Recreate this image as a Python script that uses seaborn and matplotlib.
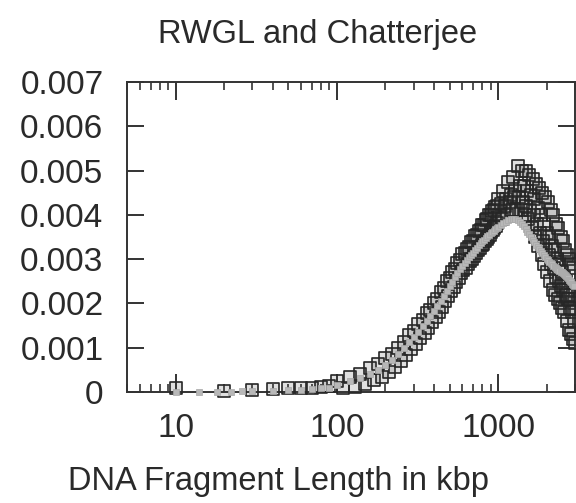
import matplotlib
matplotlib.use("Agg")
import matplotlib.pyplot as plt
import matplotlib.ticker as mticker
import seaborn as sns
import pandas as pd

# ---- data ----
# RWGL, first set of points (upper side of the band)
rwgl_a_x = [10, 20, 30, 40, 50, 60, 70, 80, 90,
            100, 120, 140, 160, 180, 200, 220, 240, 260, 280, 300, 320, 340, 360, 380,
            400, 420, 440, 460, 480, 500, 520, 540, 560, 580, 600, 620, 640, 660, 680,
            700, 720, 740, 760, 780, 800, 820, 840, 860, 880, 900, 920, 940, 960, 980,
            1000, 1040, 1080, 1120, 1160, 1200, 1240, 1280, 1320, 1360, 1400, 1440, 1480,
            1520, 1560, 1600, 1640, 1680, 1720, 1760, 1800, 1840, 1880, 1920, 1960, 2000,
            2040, 2080, 2120, 2160, 2200, 2240, 2280, 2320, 2360, 2400, 2440, 2480, 2520,
            2560, 2600, 2640, 2680, 2720, 2760, 2800, 2840, 2880, 2920, 2960]
rwgl_a_y = [0.00008, 0.00002, 0.00005, 0.00006, 0.00008, 0.00010, 0.00010, 0.00012, 0.00013,
            0.00024, 0.00033, 0.00040, 0.00054, 0.00063, 0.00076, 0.00086, 0.00100, 0.00112, 0.00128,
            0.00138, 0.00154, 0.00162, 0.00178, 0.00186, 0.00202, 0.00210, 0.00226, 0.00234, 0.00250,
            0.00258, 0.00272, 0.00278, 0.00292, 0.00298, 0.00312, 0.00314, 0.00324, 0.00328, 0.00338,
            0.00340, 0.00352, 0.00354, 0.00364, 0.00366, 0.00376, 0.00378, 0.00388, 0.00390, 0.00400,
            0.00400, 0.00408, 0.00410, 0.00418, 0.00420,
            0.00435, 0.00425, 0.00455, 0.00435, 0.00475, 0.00445, 0.00485, 0.00455, 0.00510, 0.00465,
            0.00500, 0.00465, 0.00500, 0.00455, 0.00490, 0.00445, 0.00480, 0.00435, 0.00470, 0.00415,
            0.00460, 0.00400, 0.00450, 0.00380, 0.00440, 0.00360, 0.00430, 0.00350, 0.00410, 0.00330,
            0.00400, 0.00320, 0.00380, 0.00300, 0.00370, 0.00290, 0.00350, 0.00270, 0.00340, 0.00260,
            0.00320, 0.00250, 0.00310, 0.00230, 0.00300, 0.00220, 0.00290, 0.00210, 0.00280, 0.00200]

# RWGL, second set of points (lower side of the band)
rwgl_b_x = [110, 130, 150, 170, 190, 210, 230, 250, 270, 290, 310, 330, 350, 370, 390,
            410, 430, 450, 470, 490, 510, 530, 550, 570, 590, 610, 630, 650, 670, 690,
            710, 730, 750, 770, 790, 810, 830, 850, 870, 890, 910, 930, 950, 970, 990,
            1020, 1060, 1100, 1140, 1180, 1220, 1260, 1300, 1340, 1380, 1420, 1460, 1500,
            1540, 1580, 1620, 1660, 1700, 1740, 1780, 1820, 1860, 1900, 1940, 1980, 2020,
            2060, 2100, 2140, 2180, 2220, 2260, 2300, 2340, 2380, 2420, 2460, 2500, 2540,
            2580, 2620, 2660, 2700, 2740, 2780, 2820, 2860, 2900, 2940, 2980]
rwgl_b_y = [0.00008, 0.00012, 0.00017, 0.00026, 0.00035, 0.00045, 0.00057, 0.00070, 0.00084,
            0.00096, 0.00109, 0.00121, 0.00133, 0.00145, 0.00157, 0.00169, 0.00181, 0.00193,
            0.00205, 0.00217, 0.00228, 0.00238, 0.00248, 0.00258, 0.00268, 0.00275, 0.00281,
            0.00288, 0.00295, 0.00301, 0.00308, 0.00315, 0.00321, 0.00325, 0.00331, 0.00335,
            0.00341, 0.00345, 0.00351, 0.00355, 0.00361, 0.00365, 0.00371, 0.00375, 0.00382,
            0.00400, 0.00390, 0.00420, 0.00400, 0.00430, 0.00410, 0.00440, 0.00410, 0.00440, 0.00410,
            0.00430, 0.00400, 0.00420, 0.00390, 0.00410, 0.00370, 0.00400, 0.00350, 0.00380, 0.00330,
            0.00360, 0.00310, 0.00340, 0.00290, 0.00320, 0.00270, 0.00310, 0.00250, 0.00290, 0.00230,
            0.00280, 0.00220, 0.00260, 0.00210, 0.00250, 0.00200, 0.00240, 0.00190, 0.00230, 0.00180,
            0.00220, 0.00160, 0.00210, 0.00140, 0.00190, 0.00130, 0.00180, 0.00120, 0.00160, 0.00110]

# Chatterjee (light grey)
chat_x = [10, 14, 18, 22, 26, 30, 40, 50, 60, 70, 80, 90,
          100, 120, 140, 160, 180, 200, 220, 240, 260, 280, 300, 320, 340, 360, 380,
          400, 420, 440, 460, 480, 500, 520, 540, 560, 580, 600, 620, 640, 660, 680,
          700, 720, 740, 760, 780, 800, 820, 840, 860, 880, 900, 920, 940, 960, 980,
          1000, 1040, 1080, 1120, 1160, 1200, 1240, 1280, 1320, 1360, 1400, 1440, 1480,
          1520, 1560, 1600, 1640, 1680, 1720, 1760, 1800, 1840, 1880, 1920, 1960, 2000,
          2040, 2080, 2120, 2160, 2200, 2240, 2280, 2320, 2360, 2400, 2440, 2480, 2520,
          2560, 2600, 2640, 2680, 2720, 2760, 2800, 2840, 2880, 2920, 2960]
chat_y = [0.00001, 0.00001, 0.00001, 0.00001, 0.00002, 0.00002, 0.00003, 0.00004, 0.00005,
          0.00006, 0.00008, 0.00010,
          0.00015, 0.00024, 0.00032, 0.00040, 0.00050, 0.00060, 0.00073, 0.00086, 0.00100, 0.00112,
          0.00124, 0.00136, 0.00148, 0.00160, 0.00172, 0.00184, 0.00195, 0.00206, 0.00217, 0.00228,
          0.00239, 0.00249, 0.00259, 0.00268, 0.00277, 0.00285, 0.00291, 0.00297, 0.00304, 0.00310,
          0.00315, 0.00321, 0.00326, 0.00331, 0.00336, 0.00340, 0.00344, 0.00348, 0.00352, 0.00355,
          0.00358, 0.00361, 0.00364, 0.00367, 0.00370,
          0.00372, 0.00377, 0.00381, 0.00385, 0.00388, 0.00390, 0.00390, 0.00390, 0.00388, 0.00385,
          0.00380, 0.00374, 0.00368, 0.00362, 0.00356, 0.00350, 0.00344, 0.00338, 0.00333, 0.00328,
          0.00323, 0.00318, 0.00313, 0.00309, 0.00305, 0.00301, 0.00297, 0.00294, 0.00291, 0.00288,
          0.00285, 0.00282, 0.00280, 0.00278, 0.00276, 0.00274, 0.00272, 0.00270, 0.00268, 0.00266,
          0.00264, 0.00262, 0.00260, 0.00257, 0.00254, 0.00251, 0.00248, 0.00245, 0.00242, 0.00239]

y_ticks = [0, 0.001, 0.002, 0.003, 0.004, 0.005, 0.006, 0.007]
x_ticks = [10, 100, 1000]
x_tick_labels = ["10", "100", "1000"]
title_text = "RWGL and Chatterjee"
xlabel_text = "DNA Fragment Length in kbp"

# ---- style ----
sns.set_style("ticks")
plt.rcParams["font.family"] = ["Liberation Sans", "DejaVu Sans"]

W, H = 576, 503
fig = plt.figure(figsize=(W / 100, H / 100), dpi=100)
ax = fig.add_axes([127 / W, 111 / H, 448 / W, 310 / H])

df_r = pd.concat([pd.DataFrame({"x": rwgl_a_x, "y": rwgl_a_y}),
                  pd.DataFrame({"x": rwgl_b_x, "y": rwgl_b_y})], ignore_index=True)
df_c = pd.DataFrame({"x": chat_x, "y": chat_y})

sns.scatterplot(data=df_r, x="x", y="y", ax=ax, marker="s", s=78,
                facecolor=(0.25, 0.25, 0.25, 0.16), edgecolor="#262626", linewidth=1.2,
                clip_on=False, zorder=3, legend=False)
sns.scatterplot(data=df_c, x="x", y="y", ax=ax, marker="s", s=24,
                color="#b8b8b8", edgecolor="#a8a8a8", linewidth=0.5,
                clip_on=False, zorder=4, legend=False)

ax.set_xscale("log")
ax.set_xlim(5, 3000)
ax.set_ylim(0, 0.007)

ax.xaxis.set_major_locator(mticker.FixedLocator(x_ticks))
ax.xaxis.set_major_formatter(mticker.FixedFormatter(x_tick_labels))
ax.xaxis.set_minor_locator(mticker.LogLocator(base=10, subs=[2, 3, 4, 5, 6, 7, 8, 9], numticks=20))
ax.xaxis.set_minor_formatter(mticker.NullFormatter())
ax.yaxis.set_major_locator(mticker.FixedLocator(y_ticks))
ax.yaxis.set_major_formatter(mticker.FuncFormatter(lambda v, p: "0" if abs(v) < 1e-12 else f"{v:.3f}"))

col = "#333333"
for sp in ax.spines.values():
    sp.set_visible(True)
    sp.set_color(col)
    sp.set_linewidth(1.4)

ax.tick_params(axis="both", which="both", direction="in", top=True, right=True,
               color=col, labelcolor="#2a2a2a")
ax.tick_params(axis="y", which="major", length=12, width=1.4, pad=17, labelsize=24)
ax.tick_params(axis="x", which="major", length=13, width=1.4, pad=15, labelsize=24)
ax.tick_params(axis="x", which="minor", length=6, width=1.2)

ax.set_xlabel("")
ax.set_ylabel("")

fig.text(318 / W, 1 - 43 / H, title_text, ha="center", va="baseline",
         fontsize=23.5, color="#2a2a2a")
fig.text(279 / W, 1 - 490 / H, xlabel_text, ha="center", va="baseline",
         fontsize=23.5, color="#2a2a2a")

fig.savefig("out.png", dpi=100)
